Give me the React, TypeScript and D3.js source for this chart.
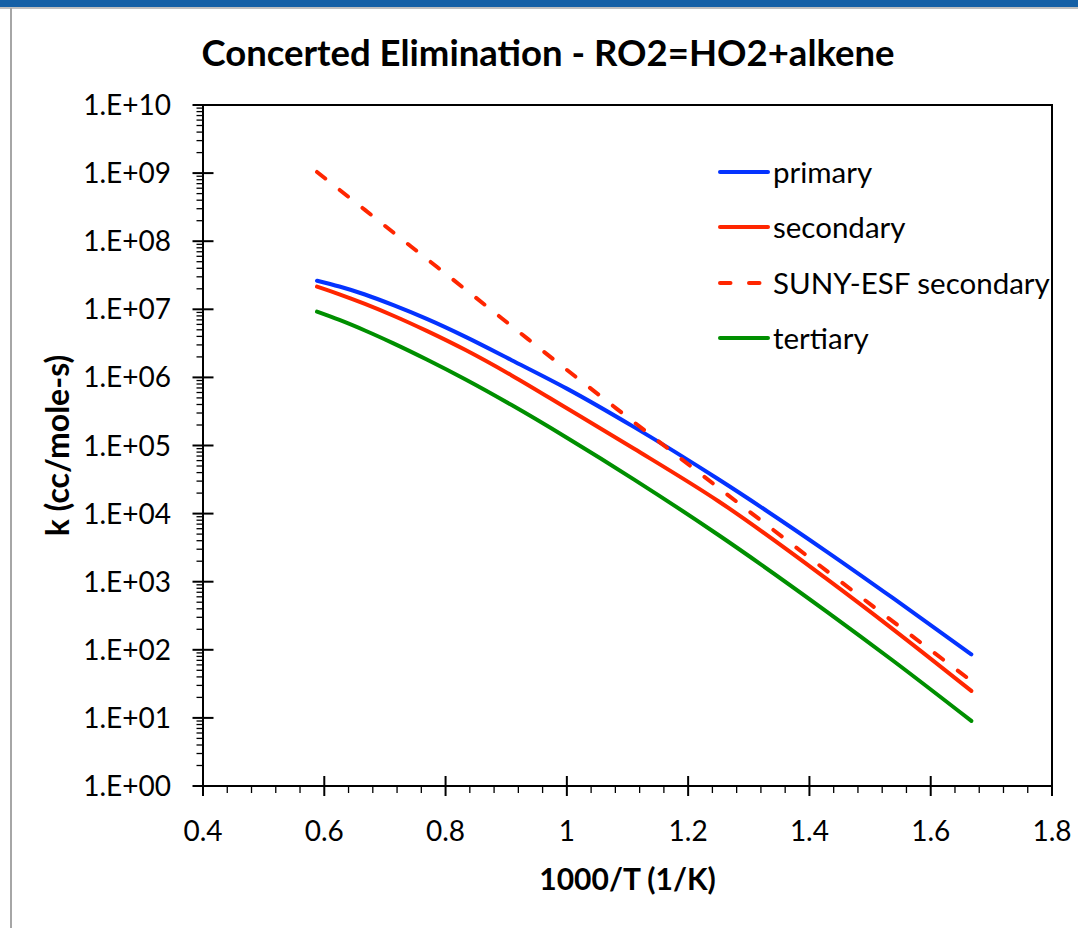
import React from "react";
import * as d3 from "d3";

// 1000/T (1/K)
const X = [0.588, 0.625, 0.667, 0.714, 0.769, 0.833, 0.909, 1.0, 1.111, 1.25, 1.429, 1.538, 1.667];
const primary = [2.63e7, 2.16e7, 1.65e7, 1.15e7, 7.23e6, 3.94e6, 1.79e6, 6.84e5, 1.86e5, 3.19e4, 2.75e3, 573, 85.5];
const secondary = [2.15e7, 1.66e7, 1.2e7, 8.05e6, 4.82e6, 2.52e6, 1.07e6, 3.52e5, 8.97e4, 1.52e4, 1.09e3, 200, 24.9];
const sunyEsf = [1.04e9, 5.69e8, 2.88e8, 1.34e8, 5.5e7, 1.95e7, 5.66e6, 1.29e6, 2.19e5, 2.4e4, 1.43e3, 259, 34.9];
const tertiary = [9.23e6, 6.97e6, 4.88e6, 3.16e6, 1.83e6, 9.31e5, 3.92e5, 1.3e5, 3.16e4, 4.85e3, 361, 69.0, 9.02];

const xTicks = [0.4, 0.6, 0.8, 1.0, 1.2, 1.4, 1.6, 1.8];
const yExponents = [0, 1, 2, 3, 4, 5, 6, 7, 8, 9, 10];

const seriesNames = ["primary", "secondary", "SUNY-ESF secondary", "tertiary"];
const seriesColors = ["#0433FF", "#FF2600", "#FF2600", "#008F00"];

const FONT = "Lato, 'Open Sans', sans-serif";

export default function App() {
  const W = 1078, H = 928;
  const L = 203, R = 1052, T = 105, B = 786;
  const x = d3.scaleLinear().domain([0.4, 1.8]).range([L, R]);
  const y = d3.scaleLog().domain([1, 1e10]).range([B, T]);

  const seriesData = [primary, secondary, sunyEsf, tertiary];
  const dashes = [null, null, "10.5 18.5", null];
  const line = d3
    .line<[number, number]>()
    .x((d) => x(d[0]))
    .y((d) => y(d[1]))
    .curve(d3.curveMonotoneX);

  const xMinor: number[] = [];
  for (let i = 0; i <= 35; i++) {
    const v = 0.4 + i * 0.04;
    if (i % 5 !== 0) xMinor.push(v);
  }
  const yMinor: number[] = [];
  for (let e = 0; e < 10; e++) {
    for (let m = 2; m <= 9; m++) yMinor.push(m * Math.pow(10, e));
  }

  const fmtY = (e: number) => "1.E+" + (e < 10 ? "0" + e : "" + e);
  const fmtX = (v: number) => String(+v.toFixed(1));

  const legendY = [172, 227, 283, 338];

  return (
    <svg
      width={W}
      height={H}
      style={{ position: "absolute", left: 0, top: 0, background: "#fff" }}
    >
      <rect x={0} y={0} width={W} height={H} fill="#fff" />
      <rect x={0} y={0} width={W} height={7} fill="#1560A6" />
      <rect x={0} y={7} width={W} height={2} fill="#BFBFBF" />
      <rect x={10} y={8} width={2} height={H - 8} fill="#A6A6A6" />

      <text
        x={548}
        y={66}
        textAnchor="middle"
        fontFamily={FONT}
        fontWeight="bold"
        fontSize={36.5}
        fill="#000"
      >
        Concerted Elimination - RO2=HO2+alkene
      </text>

      <rect x={L} y={T} width={R - L} height={B - T} fill="none" stroke="#000" strokeWidth={2} />

      {yMinor.map((v, i) => (
        <line key={"ym" + i} x1={L - 6.5} x2={L} y1={y(v)} y2={y(v)} stroke="#000" strokeWidth={1.3} />
      ))}
      {yExponents.map((e) => (
        <g key={"y" + e}>
          <line x1={L - 10.5} x2={L + 10.5} y1={y(Math.pow(10, e))} y2={y(Math.pow(10, e))} stroke="#000" strokeWidth={2} />
          <text
            x={171}
            y={y(Math.pow(10, e)) + 10}
            textAnchor="end"
            fontFamily={FONT}
            fontSize={28}
            fill="#000"
          >
            {fmtY(e)}
          </text>
        </g>
      ))}

      {xMinor.map((v, i) => (
        <line key={"xm" + i} x1={x(v)} x2={x(v)} y1={B} y2={B + 7} stroke="#000" strokeWidth={1.3} />
      ))}
      {xTicks.map((v) => (
        <g key={"x" + v}>
          <line x1={x(v)} x2={x(v)} y1={B - 10} y2={B + 10} stroke="#000" strokeWidth={2} />
          <text x={x(v)} y={841} textAnchor="middle" fontFamily={FONT} fontSize={28} fill="#000">
            {fmtX(v)}
          </text>
        </g>
      ))}

      <text x={(L + R) / 2} y={890} textAnchor="middle" fontFamily={FONT} fontWeight="bold" fontSize={30} fill="#000">
        1000/T (1/K)
      </text>
      <text
        transform={`translate(69, ${(T + B) / 2}) rotate(-90)`}
        textAnchor="middle"
        fontFamily={FONT}
        fontWeight="bold"
        fontSize={32}
        fill="#000"
      >
        k (cc/mole-s)
      </text>

      {seriesData.map((s, i) => (
        <path
          key={"s" + i}
          d={line(X.map((xv, j) => [xv, s[j]] as [number, number])) || ""}
          fill="none"
          stroke={seriesColors[i]}
          strokeWidth={4}
          strokeLinecap="round"
          strokeLinejoin="round"
          strokeDasharray={dashes[i] || undefined}
        />
      ))}

      {seriesNames.map((n, i) => (
        <g key={"lg" + i}>
          <line
            x1={720}
            x2={768}
            y1={legendY[i]}
            y2={legendY[i]}
            stroke={seriesColors[i]}
            strokeWidth={4}
            strokeLinecap="round"
            strokeDasharray={i === 2 ? "10.5 18.5" : undefined}
          />
          <text x={773} y={legendY[i] + 11} fontFamily={FONT} fontSize={29.5} fill="#000">
            {n}
          </text>
        </g>
      ))}
    </svg>
  );
}
